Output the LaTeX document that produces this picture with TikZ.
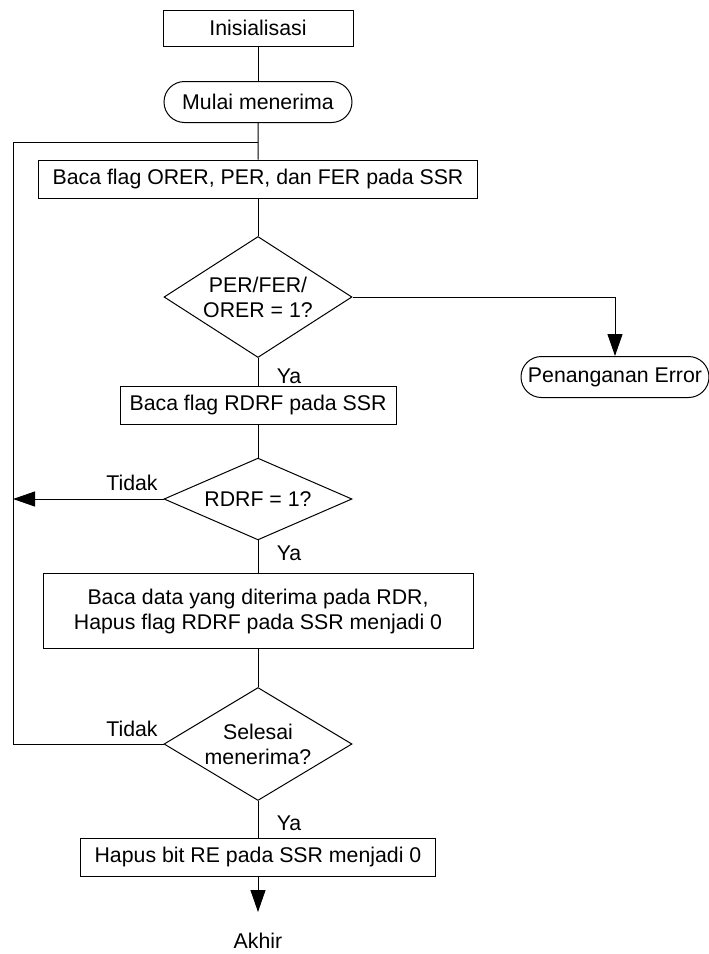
\documentclass[tikz,border=0pt]{standalone}
\usepackage{fontspec}
\setmainfont{Liberation Sans}
\usetikzlibrary{shapes.geometric,shapes.misc,arrows.meta}
\begin{document}
\begin{tikzpicture}[x=1pt,y=-1pt,
  every node/.style={font=\fontsize{21.3}{25}\selectfont, text=black},
  line/.style={draw=black, line width=1pt},
  arr/.style={line, -{Triangle[length=22pt,width=15pt]}},
  procbox/.style={rectangle, draw=black, line width=1pt, inner sep=0pt, align=center},
  termbox/.style={rounded rectangle, draw=black, line width=1pt, inner sep=0pt},
  decbox/.style={diamond, draw=black, line width=1pt, inner sep=0pt, shape aspect=1.6, align=center},
  lbl/.style={inner sep=0pt}
]
\useasboundingbox (0,0) rectangle (709,954);

% process and terminal nodes
\node[procbox, minimum width=190pt, minimum height=36pt] (init) at (258,28) {Inisialisasi};
\node[termbox, minimum width=188pt, minimum height=41pt] (start) at (258,102) {Mulai menerima};
\node[procbox, minimum width=439pt, minimum height=38pt] (readerr) at (258,179) {Baca flag ORER, PER, dan FER pada SSR};
\node[decbox, minimum width=188pt, minimum height=121pt] (d1) at (258,297) {PER/FER/\\ORER = 1?};
\node[termbox, minimum width=188pt, minimum height=41pt] (err) at (615,377) {Penanganan Error};
\node[procbox, minimum width=276pt, minimum height=38pt] (rdrf) at (258,405) {Baca flag RDRF pada SSR};
\node[decbox, minimum width=188pt, minimum height=72pt] (d2) at (258,499) {RDRF = 1?};
\node[procbox, minimum width=430pt, minimum height=75pt] (readdata) at (258,611) {Baca data yang diterima pada RDR,\\Hapus flag RDRF pada SSR menjadi 0};
\node[decbox, minimum width=188pt, minimum height=113pt] (d3) at (258,744) {Selesai\\menerima?};
\node[procbox, minimum width=355pt, minimum height=38pt] (clr) at (258,857) {Hapus bit RE pada SSR menjadi 0};
\node[lbl] (akhir) at (258,941) {Akhir};

% branch labels
\node[lbl] (ya1) at (289,376) {Ya};
\node[lbl] (ya2) at (289,553) {Ya};
\node[lbl] (ya3) at (289,823) {Ya};
\node[lbl] (tidak1) at (132,483) {Tidak};
\node[lbl] (tidak2) at (132,729) {Tidak};

% helper points
\coordinate (join) at (258,142);
\coordinate (lt) at (13,142);
\coordinate (endpt) at (258,912);

% connectors
\draw[line] (init) -- (start);
\draw[line] (start) -- (readerr);
\draw[line] (readerr) -- (d1);
\draw[line] (d1) -- (rdrf);
\draw[arr] (d1.east) -| (err.north);
\draw[line] (rdrf) -- (d2);
\draw[arr] (d2.west) -- (d2.west -| lt);
\draw[line] (d2) -- (readdata);
\draw[line] (readdata) -- (d3);
\draw[line] (d3.west) -| (lt) -- (join);
\draw[line] (d3) -- (clr);
\draw[arr] (clr.south) -- (endpt);
\end{tikzpicture}
\end{document}
